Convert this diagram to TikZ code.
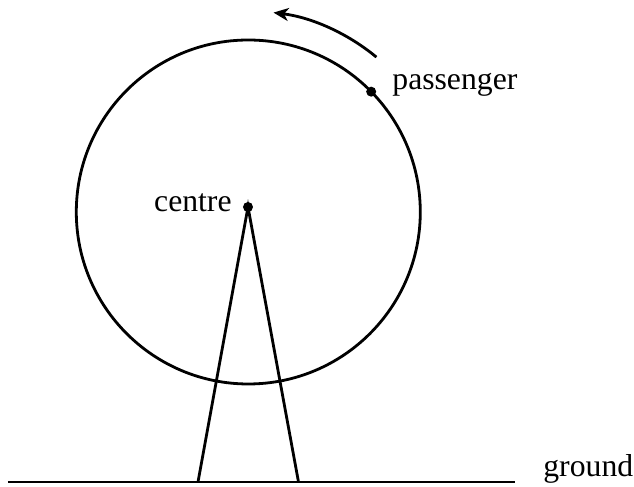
\documentclass[tikz,border=0pt]{standalone}
\usepackage{fontspec}
\setmainfont{Liberation Serif}
\usetikzlibrary{arrows.meta,calc}
\begin{document}
\begin{tikzpicture}[x=0.5pt,y=0.5pt,
  line/.style={line width=1.4pt},
  dotmark/.style={fill=black},
  lbl/.style={inner sep=0pt,font=\fontsize{15.85}{19}\selectfont}]
\useasboundingbox (0,0) rectangle (634,487);
\coordinate (O) at (248.3,275);
\coordinate (ctr) at (248,280);
\coordinate (pas) at ($(O)+(44.4:172)$);
\coordinate (lb) at (198,5);
\coordinate (rb) at (298.5,5);
\coordinate (gl) at (8,5);
\coordinate (gr) at (515,5);
\draw[line] (O) circle (172);
\draw[line] (lb) -- (ctr) -- (rb);
\draw[line] (gl) -- (gr);
\fill[dotmark] (ctr) circle (5);
\fill[dotmark] (pas) circle (5);
\draw[line,-{Stealth[length=7.5pt,width=6.5pt,inset=2.2pt]}] ($(O)+(50.4:201)$) arc (50.4:82.8:201);
\node[lbl,anchor=base east] (tc) at (232,275.3) {centre};
\node[lbl,anchor=base west] (tp) at (392,397) {passenger};
\node[lbl,anchor=base west] (tg) at (543,10) {ground};
\end{tikzpicture}
\end{document}
